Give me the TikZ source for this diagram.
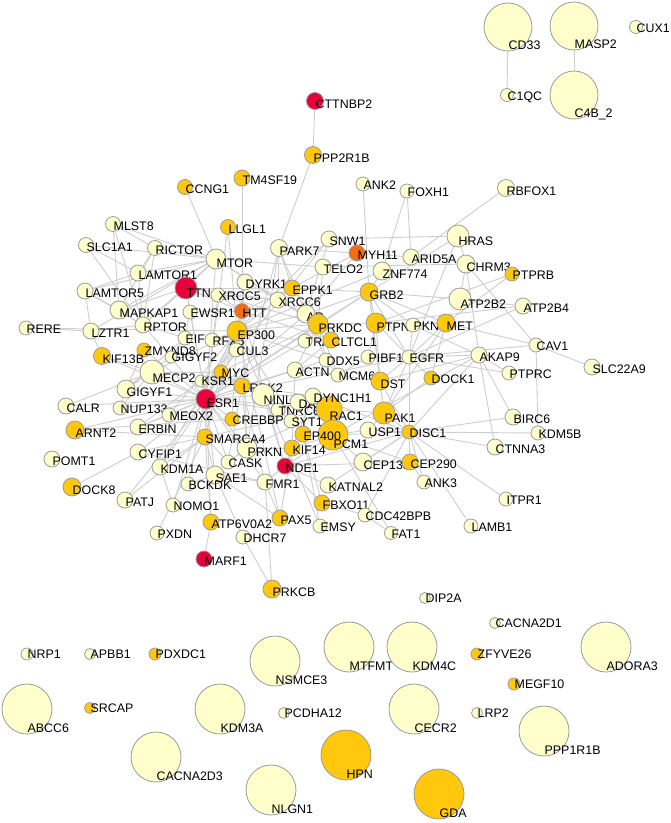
\documentclass[tikz,border=0pt]{standalone}
\usepackage{fontspec}
\setmainfont{Liberation Sans}
\usetikzlibrary{backgrounds}

\definecolor{pale}{RGB}{255,255,204}
\definecolor{gold}{RGB}{255,200,12}
\definecolor{crim}{RGB}{232,0,58}
\definecolor{orng}{RGB}{246,108,14}
\definecolor{wire}{RGB}{206,206,206}
\definecolor{rim}{RGB}{155,155,155}

\tikzset{
  gene/.style={circle,draw=rim,line width=0.8pt,inner sep=0pt},
  link/.style={draw=wire,line width=0.9pt},
  tag/.style={anchor=west,inner sep=0pt,text height=9pt,text depth=0pt,
    font=\fontsize{12.4}{13}\selectfont}
}

% name, x, y, radius, colour, text
\newcommand\gene[6]{%
  \node[gene,fill=#5,minimum size=2*#4] (#1) at (#2,#3) {};
  \pgfmathsetmacro\dy{max(0,#4-6)}
  \node[tag] (#1-t) at ({#2+0.5},{#3+\dy}) {#6};
}

\begin{document}
\begin{tikzpicture}[x=1pt,y=-1pt]
\useasboundingbox (0,0) rectangle (671,823);

% small cluster top right
\gene{CD33}{508}{27}{24}{pale}{CD33}
\gene{MASP2}{574}{26}{24}{pale}{MASP2}
\gene{C4B2}{574}{95}{24}{pale}{C4B\_2}
\gene{C1QC}{507}{95}{6.5}{pale}{C1QC}
\gene{CUX1}{636}{27}{6.5}{pale}{CUX1}

% main network
\foreach \n/\x/\y/\r/\c in {
  CTTNBP2/315/101/8.5/crim, PPP2R1B/313/155/8.5/gold, TM4SF19/242/178/8/gold,
  CCNG1/185/187/7.5/gold, ANK2/363/184/7/pale, FOXH1/407/191/7/pale,
  RBFOX1/506/188/8.5/pale, LLGL1/228/227/7.5/gold, MLST8/113/224/7.5/pale,
  SLC1A1/86/245/7.5/pale, RICTOR/155/248/7.5/pale, PARK7/279/248/8.5/pale,
  SNW1/329/239/8/pale, HRAS/458/236/11/pale, MTOR/216/259/10/pale,
  MYH11/357/253/8/orng, ARID5A/411/257/8/pale, CHRM3/466/264/9/pale,
  TELO2/323/267/8/pale, ZNF774/382/271/9/pale, PTPRB/512/274/7/gold,
  LAMTOR1/138/273/8/pale, LAMTOR5/85/291/8/pale, TTN/186/288/11/crim,
  DYRK1/245/282/8/pale, XRCC5/218/295/7/pale, EPPK1/292/288/8/gold,
  GRB2/369/292/9/gold, ATP2B2/460/299/11/pale, ATP2B4/523/306/8/pale,
  XRCC6/278/300/8/pale, MAPKAP1/119/310/9/pale, EWSR1/190/312/7/pale,
  HTT/242/311/7.5/orng, AR/306/314/9/pale, PRKDC/318/324/10/gold,
  PTPN1/376/323/10/gold, PKN1/413/325/7/pale, MET/446/323/9/gold,
  RERE/26/328/7/pale, LZTR1/91/331/8/pale, RPTOR/143/325/8/pale,
  EIF/185/338/7/pale, RFX5/212/340/7/pale, EP300/237/331/10/gold,
  TRA/305/341/7/pale, CLTCL1/331/340/8/gold, CAV1/536/345/7/pale,
  ZMYND8/144/350/7/gold, KIF13B/102/356/8.5/gold, GIGYF2/171/357/6/pale,
  CUL3/236/350/7/pale, DDX5/326/360/7/pale, PIBF1/368/357/7/pale,
  EGFR/409/357/7/pale, AKAP9/479/355/8/pale, SLC22A9/592/367/8/pale,
  PTPRC/509/373/7/pale, MECP2/152/372/12/pale, MYC/221/372/7/gold,
  ACTN/295/370/8/pale, MCM6/338/375/7/pale, DST/380/381/9/gold,
  DOCK1/431/378/7/gold, GIGYF1/126/389/9/pale, KSR1/201/381/6/pale,
  LRRK2/242/386/8/gold, CALR/66/406/8/pale, NUP133/120/408/7/pale,
  ESR1/206/399/10/crim, TNRC6/278/410/7/pale, NINL/263/395/11/pale,
  DA/298/402/8/pale, RAC1/329/409/13/gold, DYNC1H1/313/396/8/pale,
  PAK1/384/413/11/gold, MEOX2/169/415/7/pale, ERBIN/138/427/8/pale,
  CREBBP/232/419/7/gold, SYT1/291/421/7/pale, PCM1/333/435/15/gold,
  EP400/303/434/8/gold, USP1/368/430/8/pale, DISC1/409/432/7/gold,
  BIRC6/513/417/8/pale, KDM5B/538/433/7/pale, ARNT2/75/430/9/gold,
  PRKN/247/448/10/pale, SMARCA4/205/437/8/gold, CTNNA3/495/447/8/pale,
  POMT1/52/459/8/pale, CYFIP1/138/452/8/pale, KIF14/292/448/8/gold,
  CASK/228/462/7/pale, NDE1/285/466/8/crim, CEP135/363/462/9/pale,
  CEP290/410/462/8/gold, KDM1A/160/467/8/pale, SAE1/215/475/9/pale,
  BCKDK/188/484/7/pale, FMR1/265/482/8/pale, KATNAL2/328/485/8/pale,
  ANK3/424/482/7/pale, ITPR1/506/499/7/pale, DOCK8/72/487/9/gold,
  PATJ/125/500/8/pale, NOMO1/173/505/7/pale, FBXO11/322/503/8/gold,
  CDC42BPB/365/515/7/pale, FAT1/391/533/6.5/pale, LAMB1/471/526/7/pale,
  ATP6V0A2/211/522/8/gold, PAX5/280/518/8/gold, EMSY/320/526/7/pale,
  PXDN/157/533/7/pale, DHCR7/243/537/7/pale, MARF1/204/559/8/crim,
  PRKCB/272/589/9/gold}
  \gene{\n}{\x}{\y}{\r}{\c}{\n};

% unlinked genes
\foreach \n/\x/\y/\r/\c in {
  DIP2A/425/598/5.5/pale, CACNA2D1/495/623/5.5/pale, NRP1/27/654/6/pale,
  APBB1/90/654/5.5/pale, PDXDC1/155/654/6/gold, NSMCE3/275/661/25/pale,
  MTFMT/349/647/25/pale, KDM4C/412/647/25/pale, ZFYVE26/477/654/6/gold,
  ADORA3/606/647/25/pale, MEGF10/514/684/6/gold, ABCC6/27/709/25/pale,
  SRCAP/90/708/5.5/gold, KDM3A/220/709/25/pale, PCDHA12/284/713/5.5/pale,
  CECR2/414/709/25/pale, LRP2/477/713/5.5/pale, PPP1R1B/544/731/25/pale,
  CACNA2D3/156/757/25/pale, HPN/346/755/25/gold, NLGN1/271/790/25/pale,
  GDA/439/794/25/gold}
  \gene{\n}{\x}{\y}{\r}{\c}{\n};

\begin{pgfonlayer}{background}
\fill[white] (0,0) rectangle (671,823);
\foreach \a/\b in {
  CD33/C1QC, MASP2/C4B2,
  CTTNBP2/PPP2R1B, PPP2R1B/PARK7, CCNG1/MTOR, TM4SF19/HTT, LLGL1/EP300, LLGL1/ESR1,
  MLST8/RICTOR, MLST8/MTOR, MLST8/RPTOR, MLST8/MAPKAP1, SLC1A1/LAMTOR1, SLC1A1/RPTOR, SLC1A1/MTOR,
  RICTOR/MTOR, RICTOR/MAPKAP1, RICTOR/RPTOR, RICTOR/LAMTOR1,
  MTOR/RPTOR, MTOR/LAMTOR1, MTOR/MAPKAP1, MTOR/LAMTOR5, MTOR/LZTR1, MTOR/XRCC6, MTOR/PRKDC,
  MTOR/ESR1, MTOR/TTN, MTOR/TELO2,
  LAMTOR1/LAMTOR5, LAMTOR1/RPTOR, LAMTOR5/RPTOR, LAMTOR5/MAPKAP1, LAMTOR5/LZTR1,
  PARK7/MYH11, PARK7/XRCC6, PARK7/LRRK2, PARK7/PRKN, PARK7/EPPK1, PARK7/AR,
  SNW1/HRAS, SNW1/AR, SNW1/EP300, SNW1/MYC,
  ANK2/GRB2, FOXH1/ARID5A, FOXH1/ZNF774, RBFOX1/ARID5A,
  HRAS/CHRM3, HRAS/GRB2, HRAS/EGFR, MYH11/AR, MYH11/EPPK1, MYH11/ARID5A,
  TELO2/PRKDC, TELO2/CHRM3, ZNF774/GRB2, ZNF774/EP300,
  CHRM3/CAV1, CHRM3/AKAP9, CHRM3/ATP2B2, PTPRB/MET, PTPRB/PTPN1,
  GRB2/EGFR, GRB2/MET, GRB2/PTPN1, GRB2/PRKDC, GRB2/EPPK1, GRB2/ESR1, GRB2/PKN1,
  GRB2/DST, GRB2/PAK1, GRB2/AR, GRB2/ATP2B2,
  ATP2B2/ATP2B4, ATP2B4/EGFR, ATP2B4/PTPN1,
  MET/EGFR, MET/CAV1, MET/PTPN1, MET/PAK1, MET/DOCK1, PKN1/EGFR, PKN1/AKAP9,
  EGFR/PTPN1, EGFR/CAV1, EGFR/AKAP9, EGFR/PTPRC, EGFR/PIBF1, EGFR/DST, EGFR/DOCK1,
  EGFR/PAK1, EGFR/ESR1, EGFR/DISC1,
  AKAP9/PTPRC, AKAP9/BIRC6, AKAP9/DISC1, AKAP9/PCM1, AKAP9/CTNNA3, AKAP9/DST,
  CAV1/SLC22A9, CAV1/KDM5B, DOCK1/PAK1,
  BIRC6/DISC1, KDM5B/DISC1, CTNNA3/DISC1, ITPR1/DISC1, LAMB1/DISC1, ANK3/DISC1, ANK3/CEP290,
  DISC1/PAK1, DISC1/USP1, DISC1/PCM1, DISC1/CEP135, DISC1/CEP290, DISC1/DST,
  DISC1/DYNC1H1, DISC1/NDE1, DISC1/KATNAL2, DISC1/CDC42BPB,
  CEP290/PCM1, CEP135/PCM1, CEP290/NDE1,
  PCM1/DYNC1H1, PCM1/NDE1, PCM1/KIF14, PCM1/USP1, PAK1/RAC1, PAK1/USP1,
  RAC1/CYFIP1, RAC1/PRKN, RAC1/ESR1, DYNC1H1/NDE1, DYNC1H1/KIF14, DYNC1H1/LRRK2,
  ESR1/EP300, ESR1/CREBBP, ESR1/MYC, ESR1/SMARCA4, ESR1/KDM1A, ESR1/MEOX2, ESR1/ERBIN,
  ESR1/GIGYF1, ESR1/NUP133, ESR1/CALR, ESR1/ARNT2, ESR1/MECP2, ESR1/ZMYND8, ESR1/KIF13B,
  ESR1/CUL3, ESR1/XRCC5, ESR1/HTT, ESR1/TTN, ESR1/PRKDC, ESR1/AR, ESR1/DDX5, ESR1/ACTN,
  ESR1/CASK, ESR1/SAE1, ESR1/PRKN, ESR1/BCKDK, ESR1/NOMO1, ESR1/PATJ, ESR1/CYFIP1,
  ESR1/ATP6V0A2, ESR1/FMR1, ESR1/TRA, ESR1/EWSR1, ESR1/RPTOR, ESR1/TNRC6, ESR1/NINL, ESR1/KSR1,
  EP300/CREBBP, EP300/MYC, EP300/AR, EP300/SMARCA4, EP300/HTT, EP300/XRCC6, EP300/PRKDC,
  EP300/MECP2, EP300/DDX5, EP300/TRA, EP300/EP400, EP300/KDM1A, EP300/PAX5, EP300/EMSY,
  EP300/RFX5, EP300/RERE,
  HTT/TTN, HTT/XRCC5, HTT/DYRK1, HTT/EWSR1, HTT/CUL3, HTT/PRKN, HTT/EPPK1, HTT/CLTCL1, HTT/NDE1,
  MYC/MECP2, MYC/SMARCA4, MYC/PRKDC, MYC/KSR1,
  TTN/MAPKAP1, TTN/EWSR1, TTN/RPTOR, TTN/XRCC6, TTN/EPPK1,
  XRCC5/XRCC6, XRCC5/PRKDC, XRCC6/PRKDC, XRCC6/AR, DYRK1/XRCC6, DYRK1/EP300,
  PRKDC/AR, PRKDC/CLTCL1, PRKDC/PTPN1, PRKDC/EPPK1, PRKDC/DDX5, PRKDC/ACTN, PRKDC/MCM6,
  GIGYF1/GIGYF2, GIGYF1/ZMYND8, GIGYF1/MECP2, GIGYF1/NUP133, GIGYF2/EIF, GIGYF1/EIF,
  LRRK2/PRKN, LRRK2/ACTN, LRRK2/KSR1, LRRK2/MYC, LRRK2/CASK, LRRK2/FMR1,
  NINL/DYNC1H1, NINL/NDE1, ACTN/CLTCL1, ACTN/DST, ACTN/KIF14, MCM6/PIBF1, MCM6/DDX5,
  PIBF1/PTPN1, DST/PAK1, DST/PTPN1,
  SMARCA4/SAE1, SMARCA4/CASK, SMARCA4/KDM1A, SMARCA4/ATP6V0A2, SMARCA4/PXDN,
  SMARCA4/PATJ, SMARCA4/ARNT2, SAE1/FMR1, SAE1/PAX5,
  FMR1/CYFIP1, FMR1/PAX5, FMR1/PRKCB, FMR1/NDE1, NDE1/KIF14, NDE1/KATNAL2, NDE1/FBXO11,
  FBXO11/EP400, FBXO11/CDC42BPB, EMSY/EP400, CDC42BPB/FAT1, PAX5/KIF14,
  DHCR7/PRKCB, DHCR7/SAE1, ATP6V0A2/MARF1,
  DOCK8/CYFIP1, CALR/MECP2, ARNT2/CREBBP, ERBIN/MEOX2, ERBIN/KSR1, MEOX2/EP300,
  NUP133/MECP2, KDM1A/NOMO1, RERE/LZTR1, LZTR1/RPTOR, MAPKAP1/RPTOR, RPTOR/EIF,
  EIF/EWSR1, RFX5/CUL3, CUL3/KSR1, TRA/CLTCL1, DDX5/AR, DA/DYNC1H1, DA/RAC1,
  TNRC6/SYT1, SYT1/EP400, KIF14/PRKN, CASK/PRKN, BCKDK/SAE1, KIF13B/LZTR1,
  KIF13B/MECP2, FAT1/PCM1}
  \draw[link] (\a) -- (\b);
\end{pgfonlayer}

\end{tikzpicture}
\end{document}
